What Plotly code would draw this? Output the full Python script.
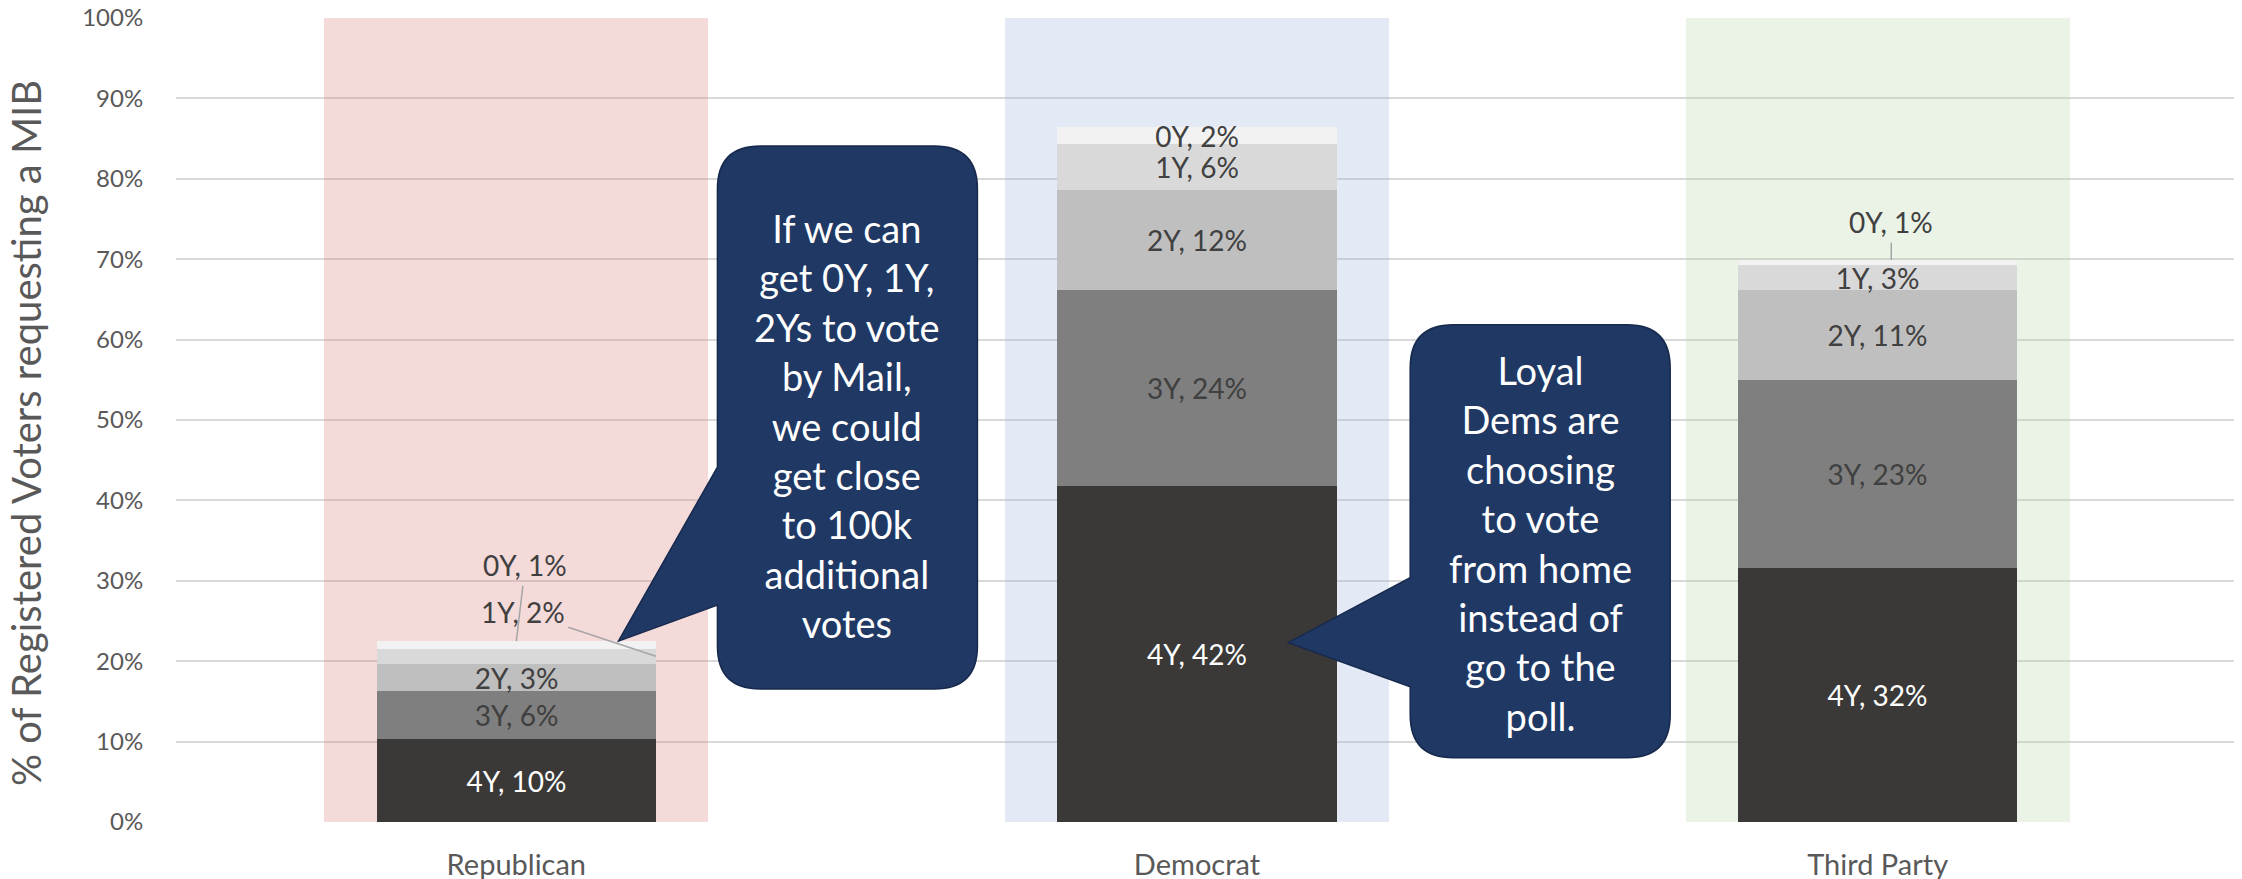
import numpy as np
import plotly.graph_objects as go

# ---------------- data ----------------
parties = ["Republican", "Democrat", "Third Party"]
series_names = ["4Y", "3Y", "2Y", "1Y", "0Y"]
v_4y = [10.3, 41.8, 31.6]
v_3y = [6.0, 24.4, 23.4]
v_2y = [3.4, 12.4, 11.2]
v_1y = [1.85, 5.7, 3.1]
v_0y = [0.95, 2.2, 0.6]
band_top = [100, 100, 100]
y_ticks = [0, 10, 20, 30, 40, 50, 60, 70, 80, 90, 100]
y_ticktext = [f"{t}%" for t in y_ticks]
y_title = "% of Registered Voters requesting a MIB"
callout_rep = "If we can<br>get 0Y, 1Y,<br>2Ys to vote<br>by Mail,<br>we could<br>get close<br>to 100k<br>additional<br>votes"
callout_dem = "Loyal<br>Dems are<br>choosing<br>to vote<br>from home<br>instead of<br>go to the<br>poll."

# ---------------- styles ----------------
FONT = "Lato, 'Open Sans', sans-serif"
seg_colors = {"4Y": "#3A3937", "3Y": "#7F7F7F", "2Y": "#BFBFBF", "1Y": "#D9D9D9", "0Y": "#F2F2F2"}
seg_text = {"4Y": "#FFFFFF", "3Y": "#404040", "2Y": "#404040", "1Y": "#404040", "0Y": "#404040"}
band_colors = ["rgba(222,132,132,0.30)", "rgba(162,182,222,0.30)", "rgba(188,212,172,0.30)"]
BAR_W = 0.41
BAND_W = 0.564
# labels drawn outside with leader lines: (series, party index) -> (x offset, anchor, ax, ay)
outside = {("0Y", 0): (0.0, "top", 9, -76),
           ("1Y", 0): (BAR_W / 2, "mid", -133, -44),
           ("0Y", 2): (0.02, "top", 0, -38)}

values = {"4Y": v_4y, "3Y": v_3y, "2Y": v_2y, "1Y": v_1y, "0Y": v_0y}
x = list(range(len(parties)))

fig = go.Figure()

# background bands
fig.add_trace(go.Bar(x=x, y=band_top, width=BAND_W, marker=dict(color=band_colors, line=dict(width=0)),
                     hoverinfo="skip", showlegend=False))

base = np.zeros(len(parties))
mids, tops = {}, {}
for name in series_names:
    vals = np.array(values[name], dtype=float)
    texts = []
    for i, v in enumerate(vals):
        texts.append("" if (name, i) in outside else f"{name}, {int(round(v))}%")
    fig.add_trace(go.Bar(
        x=x, y=vals, base=base.copy(), width=BAR_W, name=name,
        marker=dict(color=seg_colors[name], line=dict(width=0)),
        text=texts, textposition="inside", insidetextanchor="middle", textangle=0,
        constraintext="none",
        insidetextfont=dict(family=FONT, size=28, color=seg_text[name]),
        showlegend=False, hoverinfo="skip"))
    mids[name] = base + vals / 2
    tops[name] = base + vals
    base = base + vals

annotations = []
for (name, i), (dx, where, ax, ay) in outside.items():
    yv = tops[name][i] if where == "top" else mids[name][i]
    annotations.append(dict(
        x=x[i] + dx, y=yv, xref="x", yref="y",
        text=f"{name}, {int(round(values[name][i]))}%",
        showarrow=True, arrowhead=0, arrowwidth=1.5, arrowcolor="#A6A6A6",
        ax=ax, ay=ay, standoff=0, startstandoff=2,
        font=dict(family=FONT, size=28, color="#404040")))


def callout_path(L, R, B, T, tl, tu, r):
    return (f"M {L},{B + r} L {L},{tl} L 0,0 L {L},{tu} L {L},{T - r} "
            f"Q {L},{T} {L + r},{T} L {R - r},{T} Q {R},{T} {R},{T - r} "
            f"L {R},{B + r} Q {R},{B} {R - r},{B} L {L + r},{B} Q {L},{B} {L},{B + r} Z")


shapes = []
callouts = [
    # anchor x, anchor y, L, R, B, T, tail low, tail up, text xshift, text yshift, text
    (0.15, float(tops["0Y"][0]), 99, 359, -48, 495, 36, 174, 229, 216, callout_rep),
    (1.134, 22.3, 122, 382, -115, 318, -44, 65, 252, 99.5, callout_dem),
]
for axv, ayv, L, R, B, T, tl, tu, xs, ys, txt in callouts:
    shapes.append(dict(type="path", xref="x", yref="y", xsizemode="pixel", ysizemode="pixel",
                       xanchor=axv, yanchor=ayv, path=callout_path(L, R, B, T, tl, tu, 43),
                       fillcolor="#203864", line=dict(color="#172A4E", width=1.5), layer="above"))
    annotations.append(dict(x=axv, y=ayv, xref="x", yref="y", xshift=xs, yshift=ys,
                            text=txt, showarrow=False, align="center",
                            xanchor="center", yanchor="middle",
                            font=dict(family=FONT, size=38, color="#FFFFFF")))

annotations.append(dict(x=0, y=0.5, xref="paper", yref="paper", xshift=-150, yshift=-13,
                        text=y_title, textangle=-90, showarrow=False,
                        xanchor="center", yanchor="middle",
                        font=dict(family=FONT, size=40, color="#595959")))

# the page body adds an 8px offset, so the figure is 8px smaller than the window
fig.update_layout(
    width=2234, height=871,
    margin=dict(l=168, r=7, t=10, b=57),
    paper_bgcolor="white", plot_bgcolor="white",
    barmode="overlay", bargap=0,
    showlegend=False,
    shapes=shapes, annotations=annotations,
    xaxis=dict(range=[-0.5, 2.525], tickvals=x, ticktext=parties, showgrid=False,
               zeroline=False, showline=False, ticks="outside", ticklen=17,
               tickcolor="rgba(0,0,0,0)", automargin=False, ticklabeloverflow="allow",
               tickfont=dict(family=FONT, size=29, color="#595959")),
    yaxis=dict(range=[0, 100], tickvals=y_ticks, ticktext=y_ticktext, showgrid=True,
               gridcolor="#D9D9D9", gridwidth=2, zeroline=False, showline=False,
               ticks="outside", ticklen=27, tickcolor="rgba(0,0,0,0)", automargin=False,
               ticklabeloverflow="allow",
               tickfont=dict(family=FONT, size=24, color="#595959")),
)

fig.write_html("out.html")
